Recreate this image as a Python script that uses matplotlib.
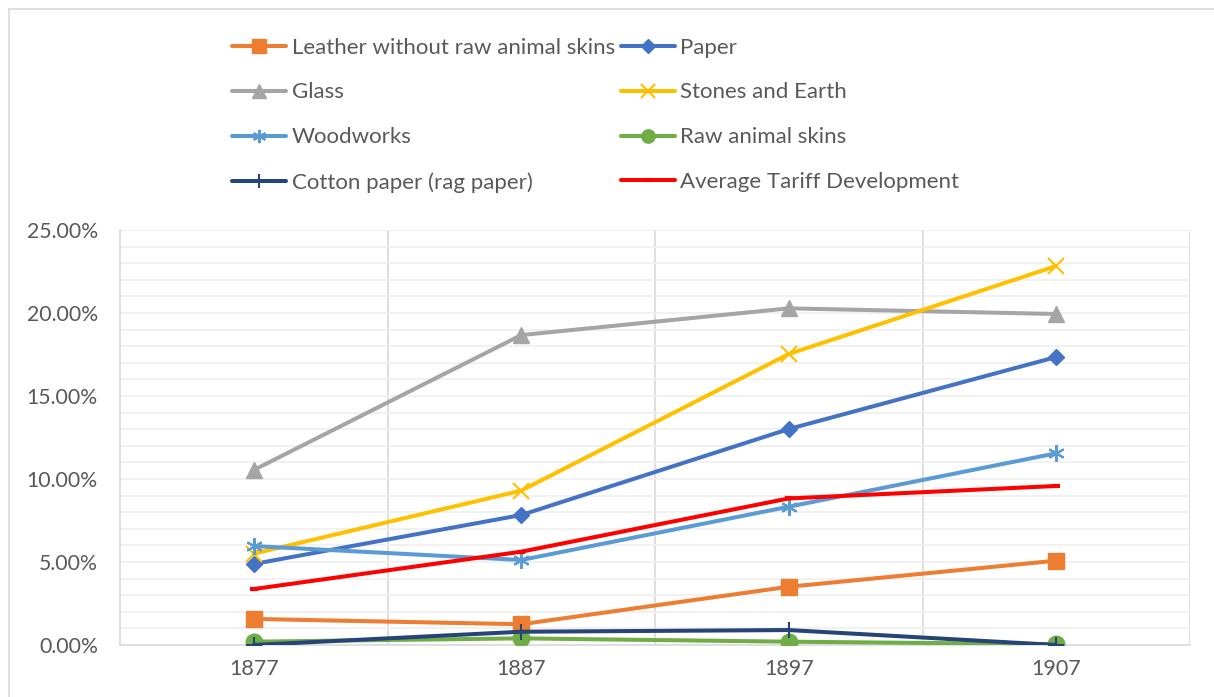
import matplotlib
matplotlib.use("Agg")
import matplotlib.pyplot as plt
from matplotlib.patches import Rectangle
from matplotlib.ticker import FixedLocator, MultipleLocator

plt.rcParams['font.family'] = ['Lato', 'DejaVu Sans']

years = ["1877", "1887", "1897", "1907"]
leather = [0.0157, 0.0125, 0.0351, 0.0508]
paper = [0.0488, 0.0783, 0.1301, 0.1735]
glass = [0.1054, 0.1867, 0.2028, 0.1994]
stones = [0.0550, 0.0930, 0.1753, 0.2283]
woodworks = [0.0596, 0.0512, 0.0833, 0.1155]
raw_skins = [0.0020, 0.0040, 0.0020, 0.0005]
cotton = [0.0000, 0.0080, 0.0090, 0.0000]
average = [0.0337, 0.0562, 0.0883, 0.0958]

series = [
    ("Leather without raw animal skins", leather, "#ED7D31", dict(marker="s", ms=12)),
    ("Paper", paper, "#4472C4", dict(marker="D", ms=8.5)),
    ("Glass", glass, "#A5A5A5", dict(marker="^", ms=12)),
    ("Stones and Earth", stones, "#FFC000", dict(marker="x", ms=12, mew=1.5)),
    ("Woodworks", woodworks, "#5B9BD5", dict(marker=(6, 2, 0), ms=12, mew=1.5)),
    ("Raw animal skins", raw_skins, "#70AD47", dict(marker="o", ms=12)),
    ("Cotton paper (rag paper)", cotton, "#264478", dict(marker="+", ms=12, mew=1.5)),
    ("Average Tariff Development", average, "#FF0000", dict(marker="_", ms=6, mew=3)),
]

W, H = 1214, 697
fig = plt.figure(figsize=(W / 100, H / 100), dpi=100)
ax = fig.add_axes([120 / W, 1 - 645 / H, (1190 - 120) / W, (645 - 230) / H])

x = list(range(len(years)))
handles = {}
for name, vals, color, mk in series:
    ln, = ax.plot(x, vals, color=color, lw=2.9, label=name,
                  solid_capstyle="round", solid_joinstyle="round",
                  markerfacecolor=color, markeredgecolor=color, zorder=3, **mk)
    handles[name] = ln

ax.set_xlim(-0.5, 3.5)
ax.set_ylim(0, 0.25)
ax.set_xticks(x)
ax.set_xticklabels(years)
ax.xaxis.set_minor_locator(FixedLocator([0.5, 1.5, 2.5, 3.5]))
ax.yaxis.set_major_locator(MultipleLocator(0.05))
ax.yaxis.set_minor_locator(MultipleLocator(0.01))
ax.set_yticklabels([f"{v*100:.2f}%" for v in ax.get_yticks()])

ax.grid(which="both", axis="y", color="#EFEFEF", lw=1.2, zorder=0)
ax.grid(which="minor", axis="x", color="#D9D9D9", lw=1.2, zorder=0)
ax.set_axisbelow(True)

for s in ["top", "right"]:
    ax.spines[s].set_visible(False)
ax.spines["left"].set_color("#D9D9D9")
ax.spines["left"].set_linewidth(1.2)
ax.spines["bottom"].set_color("#D9D9D9")
ax.spines["bottom"].set_linewidth(1.2)

ax.tick_params(axis="both", which="both", length=0, colors="#595959")
ax.tick_params(axis="y", pad=16, labelsize=15.3)
ax.tick_params(axis="x", pad=10, labelsize=15.5)

order = ["Leather without raw animal skins", "Glass", "Woodworks", "Cotton paper (rag paper)",
         "Paper", "Stones and Earth", "Raw animal skins", "Average Tariff Development"]
leg = fig.legend([handles[n] for n in order], order, ncol=2, loc="upper left",
                 bbox_to_anchor=(232 / W, 1 - 37.5 / H), frameon=False,
                 fontsize=16, handlelength=2.43, handletextpad=0.25,
                 columnspacing=0.27, labelspacing=1.12, borderpad=0, borderaxespad=0,
                 markerscale=0.8)
for t in leg.get_texts():
    t.set_color("#595959")

fig.patches.append(Rectangle((9 / W, -0.1), 1.2, 1 - 9 / H + 0.1, transform=fig.transFigure,
                             fill=False, edgecolor="#D9D9D9", lw=1.2))

fig.savefig("out.png", dpi=100)
